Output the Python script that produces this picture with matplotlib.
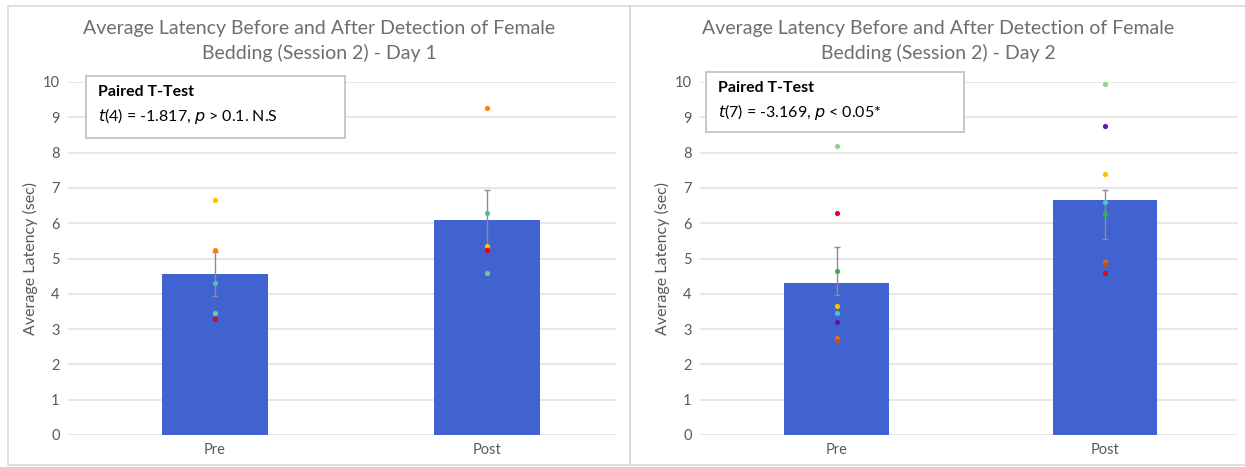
import matplotlib.pyplot as plt
from matplotlib.patches import Rectangle
import numpy as np

plt.rcParams['font.family'] = ['Lato', 'DejaVu Sans']

cats = ['Pre', 'Post']

# Day 1
day1_mean = [4.55, 6.1]
day1_err_lo = [0.6, 0.85]
day1_err_hi = [0.62, 0.85]
day1_pre = [6.65, 5.25, 4.3, 3.45, 3.3]
day1_post = [5.35, 9.25, 6.3, 4.6, 5.25]
day1_colors = ['#FFC000', '#FF7F0E', '#4DBFB0', '#7CC68A', '#E8001C']

# Day 2
day2_mean = [4.31, 6.65]
day2_err_lo = [0.35, 1.11]
day2_err_hi = [1.02, 0.28]
day2_pre = [8.2, 6.3, 4.65, 3.65, 3.45, 3.2, 2.75, 2.65]
day2_post = [9.95, 4.6, 6.25, 7.4, 6.6, 8.75, 4.9, 4.85]
day2_colors = ['#8FD18F', '#F0001C', '#2DB84B', '#FFC000', '#46C8C0', '#5B1A9E', '#E07020', '#B8560F']

titles = ['Average Latency Before and After Detection of Female\nBedding (Session 2) - Day 1',
          'Average Latency Before and After Detection of Female\nBedding (Session 2) - Day 2']
stats = [r'$\mathit{t}$(4) = -1.817, $\mathit{p}$ > 0.1. N.S',
         r'$\mathit{t}$(7) = -3.169, $\mathit{p}$ < 0.05*']

W, H = 1245, 467
fig = plt.figure(figsize=(W / 100, H / 100), dpi=100)

def px(x0, y0, x1, y1):
    # pixel box (top-left origin) to figure fraction
    return [x0 / W, 1 - y1 / H, (x1 - x0) / W, (y1 - y0) / H]

# panel frames
for (a, b) in [(8, 630), (630, 1250)]:
    fig.patches.append(Rectangle((a / W, 1 - 465 / H), (b - a) / W, (465 - 6) / H,
                                 transform=fig.transFigure, fill=False,
                                 edgecolor='#D9D9D9', lw=1.2))

panels = [
    dict(box=px(68, 82, 616, 435), xlim=(-0.54, 1.474), mean=day1_mean,
         lo=day1_err_lo, hi=day1_err_hi, pre=day1_pre, post=day1_post,
         colors=day1_colors, tbox=(86, 76, 345, 138), tcx=319),
    dict(box=px(700, 82, 1238, 435), xlim=(-0.51, 1.496), mean=day2_mean,
         lo=day2_err_lo, hi=day2_err_hi, pre=day2_pre, post=day2_post,
         colors=day2_colors, tbox=(706, 72, 964, 132), tcx=938),
]

x = np.arange(len(cats))
for i, p in enumerate(panels):
    ax = fig.add_axes(p['box'])
    ax.bar(x, p['mean'], width=0.39, color='#4162D1', zorder=2)
    ax.errorbar(x, p['mean'], yerr=[p['lo'], p['hi']], fmt='none',
                ecolor='#8C8C8C', elinewidth=1, capsize=2, capthick=1, zorder=3)
    for j in range(len(p['pre'])):
        ax.scatter([0, 1], [p['pre'][j], p['post'][j]], s=14, color=p['colors'][j],
                   zorder=4, linewidths=0)
    ax.set_ylim(0, 10)
    ax.set_xlim(*p['xlim'])
    ax.set_yticks(range(11))
    ax.set_xticks(x)
    ax.set_xticklabels(cats)
    ax.grid(axis='y', color='#E3E3E3', lw=1.2, zorder=0)
    ax.set_axisbelow(True)
    for s in ax.spines.values():
        s.set_visible(False)
    ax.tick_params(length=0, colors='#595959', labelsize=10.5, pad=6)
    ax.tick_params(axis='x', pad=6)
    ax.set_ylabel('Average Latency (sec)', fontsize=11.5, color='#595959', labelpad=3)

    fig.text(p['tcx'] / W, 1 - 41 / H, titles[i], ha='center', va='center',
             fontsize=14, color='#6E6E6E', linespacing=1.4)

    x0, y0, x1, y1 = p['tbox']
    fig.patches.append(Rectangle((x0 / W, 1 - y1 / H), (x1 - x0) / W, (y1 - y0) / H,
                                 transform=fig.transFigure, facecolor='white',
                                 edgecolor='#BFBFBF', lw=1.2, zorder=5))
    fig.text((x0 + 12) / W, 1 - (y0 + 16) / H, 'Paired T-Test', fontsize=11.5,
             fontweight='bold', color='black', va='center', zorder=6)
    fig.text((x0 + 12) / W, 1 - (y0 + 40) / H, stats[i], fontsize=11.5,
             color='black', va='center', zorder=6)

plt.savefig('out.png', dpi=100)
